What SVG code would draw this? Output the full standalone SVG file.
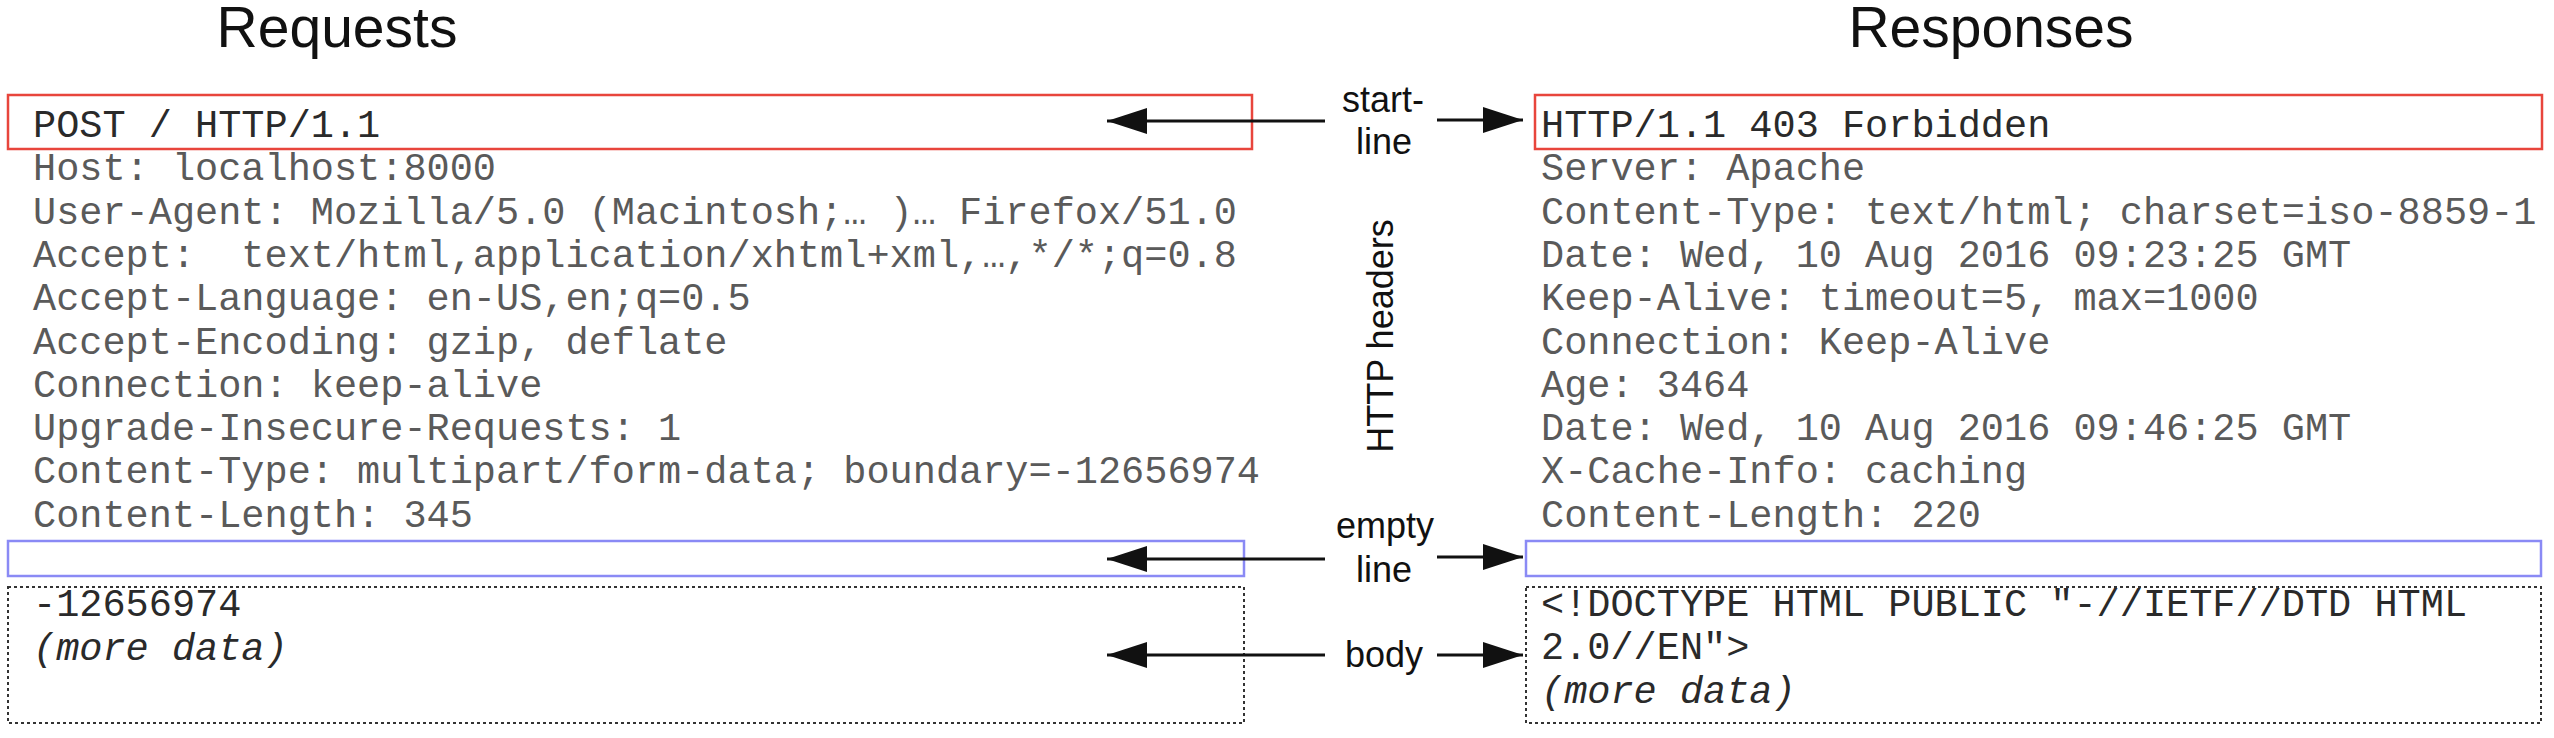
<svg xmlns="http://www.w3.org/2000/svg" width="2554" height="738" viewBox="0 0 2554 738">
<style>
.title{font-family:"Liberation Sans",Arial,sans-serif;font-size:57px;fill:#111;text-anchor:middle}
.lbl{font-family:"Liberation Sans",Arial,sans-serif;font-size:36px;fill:#111;text-anchor:middle}
.mono{font-family:"Liberation Mono","Courier New",monospace;font-size:38.6px;white-space:pre}
.start{fill:#2a2a2a}
.hdr{fill:#5a5a5a}
.body{fill:#2a2a2a}
.it{font-style:italic}
.redbox{fill:none;stroke:#e8453c;stroke-width:2.5}
.bluebox{fill:none;stroke:#8a8af5;stroke-width:2.5}
.dotbox{fill:none;stroke:#333;stroke-width:2;stroke-dasharray:3 3}
.conn{stroke:#111;stroke-width:3;fill:none;marker-end:url(#arrow)}
</style>
<defs>
<marker id="arrow" markerUnits="userSpaceOnUse" markerWidth="42" markerHeight="28" refX="40" refY="13" orient="auto">
<path d="M0,0 L40,13 L0,26 Z" fill="#111"/>
</marker>
</defs>
<rect width="2554" height="738" fill="#fff"/>

<g id="title-requests"><text class="title" x="337" y="47">Requests</text></g>
<g id="title-responses"><text class="title" x="1991" y="47">Responses</text></g>

<g id="request-start-line">
<rect class="redbox" x="8" y="95" width="1244" height="54"/>
<text class="mono start" x="33" y="137">POST / HTTP/1.1</text>
</g>
<g id="request-headers" class="mono hdr">
<text x="33" y="180.3">Host: localhost:8000</text>
<text x="33" y="223.6">User-Agent: Mozilla/5.0 (Macintosh;… )… Firefox/51.0</text>
<text x="33" y="266.9" xml:space="preserve">Accept:  text/html,application/xhtml+xml,…,*/*;q=0.8</text>
<text x="33" y="310.2">Accept-Language: en-US,en;q=0.5</text>
<text x="33" y="353.5">Accept-Encoding: gzip, deflate</text>
<text x="33" y="396.8">Connection: keep-alive</text>
<text x="33" y="440.1">Upgrade-Insecure-Requests: 1</text>
<text x="33" y="483.4">Content-Type: multipart/form-data; boundary=-12656974</text>
<text x="33" y="526.7">Content-Length: 345</text>
</g>
<g id="request-empty-line">
<rect class="bluebox" x="8" y="541" width="1236" height="35"/>
</g>
<g id="request-body">
<rect class="dotbox" x="8" y="587" width="1236" height="136"/>
<text class="mono body" x="33" y="616">-12656974</text>
<text class="mono body it" x="33" y="660">(more data)</text>
</g>

<g id="response-start-line">
<rect class="redbox" x="1535" y="95" width="1007" height="54"/>
<text class="mono start" x="1541" y="137">HTTP/1.1 403 Forbidden</text>
</g>
<g id="response-headers" class="mono hdr">
<text x="1541" y="180.3">Server: Apache</text>
<text x="1541" y="223.6">Content-Type: text/html; charset=iso-8859-1</text>
<text x="1541" y="266.9">Date: Wed, 10 Aug 2016 09:23:25 GMT</text>
<text x="1541" y="310.2">Keep-Alive: timeout=5, max=1000</text>
<text x="1541" y="353.5">Connection: Keep-Alive</text>
<text x="1541" y="396.8">Age: 3464</text>
<text x="1541" y="440.1">Date: Wed, 10 Aug 2016 09:46:25 GMT</text>
<text x="1541" y="483.4">X-Cache-Info: caching</text>
<text x="1541" y="526.7">Content-Length: 220</text>
</g>
<g id="response-empty-line">
<rect class="bluebox" x="1526" y="541" width="1015" height="35"/>
</g>
<g id="response-body">
<rect class="dotbox" x="1526" y="587" width="1015" height="136"/>
<text class="mono body" x="1541" y="616">&lt;!DOCTYPE HTML PUBLIC "-//IETF//DTD HTML</text>
<text class="mono body" x="1541" y="659">2.0//EN"&gt;</text>
<text class="mono body it" x="1541" y="703">(more data)</text>
</g>

<g id="label-start-line">
<text class="lbl" x="1383" y="112">start-</text>
<text class="lbl" x="1384" y="154">line</text>
</g>
<g id="label-http-headers">
<text class="lbl" font-size="37" transform="translate(1393,336) rotate(-90)" x="0" y="0">HTTP headers</text>
</g>
<g id="label-empty-line">
<text class="lbl" x="1385" y="538">empty</text>
<text class="lbl" x="1384" y="582">line</text>
</g>
<g id="label-body">
<text class="lbl" x="1384" y="667">body</text>
</g>

<g id="connectors">
<line class="conn" x1="1325" y1="121" x2="1107" y2="121"/>
<line class="conn" x1="1437" y1="120" x2="1523" y2="120"/>
<line class="conn" x1="1325" y1="559" x2="1107" y2="559"/>
<line class="conn" x1="1437" y1="557" x2="1523" y2="557"/>
<line class="conn" x1="1325" y1="655" x2="1107" y2="655"/>
<line class="conn" x1="1437" y1="655" x2="1523" y2="655"/>
</g>
</svg>
